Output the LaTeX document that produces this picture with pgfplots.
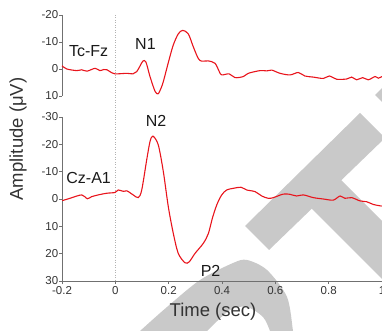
\documentclass[border=0pt]{standalone}
\usepackage{fontspec}
\setmainfont{Liberation Sans}
\usepackage{pgfplots}
\usepackage{pgfplotstable}
\pgfplotsset{compat=1.18}
\definecolor{curvered}{HTML}{E8141C}
\definecolor{wm}{HTML}{C9C9C9}
\definecolor{axgray}{HTML}{707070}
\definecolor{ticktext}{HTML}{333333}
\definecolor{labtext}{HTML}{1A1A1A}

\pgfplotstableread{
t v
-0.2 -1.2
-0.182 0
-0.145 0.6
-0.126 0.3
-0.106 0.8
-0.076 -0.25
-0.058 0.6
-0.043 0.2
-0.031 0.3
-0.02 1
-0.001 1.8
0.043 1.6
0.066 1.8
0.08 1
0.092 -1
0.104 -3
0.115 -2.5
0.13 2.8
0.149 8.3
0.16 9.2
0.1675 8
0.179 5
0.199 -2.5
0.217 -8.8
0.236 -13
0.2526 -14.3
0.2736 -13
0.2924 -8.2
0.311 -3.9
0.324 -2.9
0.3486 -3
0.374 -2.1
0.39 1
0.399 2.2
0.427 1.8
0.449 3.2
0.48 2.8
0.4986 1.6
0.5425 0.6
0.5676 0.7
0.5864 0.4
0.6175 1.6
0.655 2.2
0.686 1.3
0.711 2.6
0.742 3
0.78 3.5
0.8024 2.6
0.83 3.8
0.8676 3.7
0.8864 3
0.905 4
0.9276 3.2
0.9486 4
0.974 2.8
0.986 3.4
1.0 2.8
}\tcfz

\pgfplotstableread{
t v
-0.199 0.6
-0.17 -0.25
-0.126 -1.5
-0.105 -0.1
-0.089 -0.85
-0.064 -1.5
-0.0325 -2.1
-0.001 -2.4
0.011 -3.3
0.03 -2.8
0.043 -3
0.067 -1.5
0.086 -0.5
0.099 -3.3
0.1176 -14.3
0.13 -21
0.141 -23
0.161 -19.8
0.18 -10
0.1986 2.8
0.2174 12.6
0.236 19.9
0.261 23.3
0.277 23
0.2988 19.9
0.33 16.2
0.349 12.6
0.364 7
0.381 2
0.399 -1.5
0.4176 -3.3
0.4424 -3.9
0.471 -4.3
0.4926 -3.3
0.524 -2.7
0.549 -1.1
0.5736 -0.25
0.5924 -0.5
0.63 -1.8
0.655 -1.7
0.68 -1.1
0.705 -1.5
0.7424 -0.5
0.78 0
0.8174 0.4
0.8425 -1.1
0.861 -0.25
0.8864 -0.5
0.9175 0.7
0.9426 1
0.9674 2
0.999 2.6
}\czaone

\tikzset{lab/.style={font=\fontsize{16}{18}\selectfont, text=labtext}}
\pgfplotsset{
  common/.style={
    scale only axis, width=320pt, xmin=-0.2, xmax=1, y dir=reverse,
    axis line style={axgray, line width=0.6pt, -},
    tick style={axgray, line width=0.6pt},
    tick align=outside, major tick length=3pt,
    ticklabel style={font=\fontsize{11.5}{13}\selectfont, text=ticktext},
    yticklabel style={inner xsep=0.6pt},
    xticklabel style={inner ysep=2.5pt},
    /pgf/number format/assume math mode=true,
    clip=false,
  },
  curve/.style={curvered, line width=1.1pt, smooth, tension=0.5, no markers},
}

\begin{document}
\begin{tikzpicture}
% watermark (background)
\fill[wm] (360pt,218pt) -- (385pt,193pt) -- (269pt,81pt) -- (245pt,105pt) -- cycle;
\fill[wm] (339pt,153pt) -- (310pt,124pt) -- (405pt,29pt) -- (434pt,58pt) -- cycle;
\fill[wm] (375pt,236pt) -- (390pt,251pt) -- (390pt,221pt) -- cycle;
\fill[wm] plot[smooth] coordinates {(135pt,-5pt) (140pt,0pt) (167pt,24pt) (200pt,51pt) (233pt,68pt) (247pt,71pt) (267pt,61pt) (287pt,34pt) (293pt,0pt) (294pt,-5pt)}
  -- plot[smooth] coordinates {(271pt,-5pt) (270pt,0pt) (263pt,14pt) (247pt,24pt) (230pt,21pt) (207pt,0pt) (202pt,-5pt)} -- cycle;

\begin{axis}[common, name=top, at={(62pt,235pt)}, anchor=south west, height=81pt,
  ymin=-20, ymax=10, ytick={-20,-10,0,10},
  axis x line=none, axis y line*=left, xtick=\empty]
  \draw[black!30, dotted, line width=0.5pt] (axis cs:0,-20) -- (axis cs:0,17.7);
  \addplot[curve] table[x=t, y=v] {\tcfz};
  \node[lab] at (axis cs:-0.1,-6.5) {Tc-Fz};
  \node[lab] at (axis cs:0.113,-9.2) {N1};
\end{axis}

\begin{axis}[common, name=bot, at={(62pt,50pt)}, anchor=south west, height=164pt,
  ymin=-30, ymax=30, ytick={-30,-20,-10,0,10,20,30},
  xtick={-0.2,0,0.2,0.4,0.6,0.8,1},
  axis x line*=bottom, axis y line*=left]
  \draw[black!30, dotted, line width=0.5pt] (axis cs:0,-30) -- (axis cs:0,30);
  \addplot[curve] table[x=t, y=v] {\czaone};
  \node[lab] at (axis cs:-0.1,-7.7) {Cz-A1};
  \node[lab] at (axis cs:0.1525,-28.6) {N2};
  \node[lab] at (axis cs:0.357,26.4) {P2};
\end{axis}

\node[font=\fontsize{18.5}{22}\selectfont, text=ticktext] at (213pt,19pt) {Time (sec)};
\node[font=\fontsize{18.5}{22}\selectfont, text=ticktext, rotate=90] at (18pt,192pt) {Amplitude (μV)};

\pgfresetboundingbox
\useasboundingbox (0pt,0pt) rectangle (382pt,331pt);
\end{tikzpicture}
\end{document}
